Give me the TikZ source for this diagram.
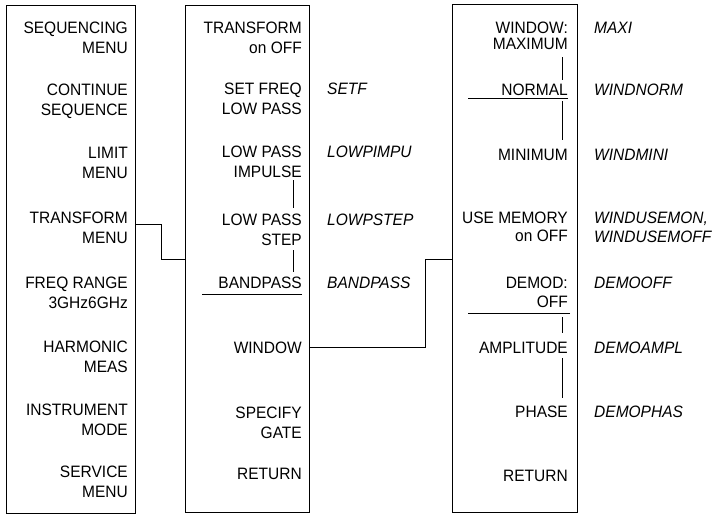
\documentclass[tikz,border=0pt]{standalone}
\usepackage{fontspec}
\setmainfont{Liberation Sans}[FakeStretch=0.94]
\begin{document}
\begin{tikzpicture}[x=1pt,y=-1pt,
  menubox/.style={draw,line width=1.1pt,inner sep=0pt,anchor=north west},
  key/.style={inner sep=0pt,anchor=north east,align=right,font=\fontsize{16.5}{20}\selectfont},
  cmd/.style={inner sep=0pt,anchor=north west,align=left,font=\fontsize{16.5}{19}\selectfont\itshape},
  conn/.style={line width=0.9pt},
  selbar/.style={line width=0.9pt},
  uline/.style={line width=1.1pt}]
\useasboundingbox (0,0) rectangle (719,516);
% boxes
\node[menubox,minimum width=129pt,minimum height=508pt] (box1) at (6,5) {};
\node[menubox,minimum width=124pt,minimum height=507pt] (box2) at (185,5) {};
\node[menubox,minimum width=125pt,minimum height=508pt] (box3) at (452,4) {};
% box 1 keys
\node[key] (a1) at (128,22) {SEQUENCING\\MENU};
\node[key] (a2) at (128,84) {CONTINUE\\SEQUENCE};
\node[key] (a3) at (128,147) {LIMIT\\MENU};
\node[key] (a4) at (128,212) {TRANSFORM\\MENU};
\node[key] (a5) at (128,277) {FREQ RANGE\\3GHz6GHz};
\node[key] (a6) at (128,341) {HARMONIC\\MEAS};
\node[key] (a7) at (128,404) {INSTRUMENT\\MODE};
\node[key] (a8) at (128,466) {SERVICE\\MENU};
% box 2 keys
\node[key] (b1) at (302,22) {TRANSFORM\\on OFF};
\node[key] (b2) at (302,83) {SET FREQ\\LOW PASS};
\node[key] (b3) at (302,146) {LOW PASS\\IMPULSE};
\node[key] (b4) at (302,214) {LOW PASS\\STEP};
\node[key] (b5) at (302,277) {BANDPASS};
\node[key] (b6) at (302,342) {WINDOW};
\node[key] (b7) at (302,407) {SPECIFY\\GATE};
\node[key] (b8) at (302,468) {RETURN};
% box 2 commands
\node[cmd] (s2) at (327,83) {SETF};
\node[cmd] (s3) at (327,146) {LOWPIMPU};
\node[cmd] (s4) at (327,214) {LOWPSTEP};
\node[cmd] (s5) at (327,277) {BANDPASS};
% box 3 keys
\node[key] (c1) at (568,22) {WINDOW:\\[-4pt]MAXIMUM};
\node[key] (c2) at (568,84) {NORMAL};
\node[key] (c3) at (568,149) {MINIMUM};
\node[key] (c4) at (568,212) {USE MEMORY\\[-2pt]on OFF};
\node[key] (c5) at (568,277) {DEMOD:\\[-1pt]OFF};
\node[key] (c6) at (568,342) {AMPLITUDE};
\node[key] (c7) at (568,406) {PHASE};
\node[key] (c8) at (568,470) {RETURN};
% box 3 commands
\node[cmd] (t1) at (594,22) {MAXI};
\node[cmd] (t2) at (594,84) {WINDNORM};
\node[cmd] (t3) at (594,149) {WINDMINI};
\node[cmd] (t4) at (594,212) {WINDUSEMON,\\WINDUSEMOFF};
\node[cmd] (t5) at (594,277) {DEMOOFF};
\node[cmd] (t6) at (594,342) {DEMOAMPL};
\node[cmd] (t7) at (594,406) {DEMOPHAS};
% selection bars and underlines, box 2
\draw[selbar] ([xshift=-9pt,yshift=-2pt]b3.south east) -- ([xshift=-9pt,yshift=6pt]b4.north east);
\draw[selbar] ([xshift=-9pt,yshift=-4pt]b4.south east) -- ([xshift=-9pt,yshift=5pt]b5.north east);
\draw[uline] ([yshift=-5pt]b5.south east) -- ++(-100,0);
% selection bars and underlines, box 3
\draw[selbar] ([xshift=-6pt,yshift=-7pt]c1.south east) -- ([xshift=-6pt,yshift=4pt]c2.north east);
\draw[uline] ([yshift=-2pt]c2.south east) -- ++(-100,0);
\draw[selbar] ([xshift=-6pt,yshift=-5pt]c2.south east) -- ([xshift=-6pt,yshift=9pt]c3.north east);
\draw[uline] ([xshift=2pt,yshift=-5pt]c5.south east) -- ++(-102,0);
\draw[selbar] ([xshift=-6pt,yshift=-9pt]c5.south east) -- ([xshift=-6pt,yshift=9pt]c6.north east);
\draw[selbar] ([xshift=-6pt,yshift=-4pt]c6.south east) -- ([xshift=-6pt,yshift=8pt]c7.north east);
% connectors
\coordinate (p1) at (box1.east |- 0,224);
\coordinate (p2) at (box2.west |- 0,259);
\draw[conn] (p1) -- (p1 -| 161,0) -- (p2 -| 161,0) -- (p2);
\coordinate (q1) at (box2.east |- 0,347);
\coordinate (q2) at (box3.west |- 0,259);
\draw[conn] (q1) -- (q1 -| 425,0) -- (q2 -| 425,0) -- (q2);
\end{tikzpicture}
\end{document}
